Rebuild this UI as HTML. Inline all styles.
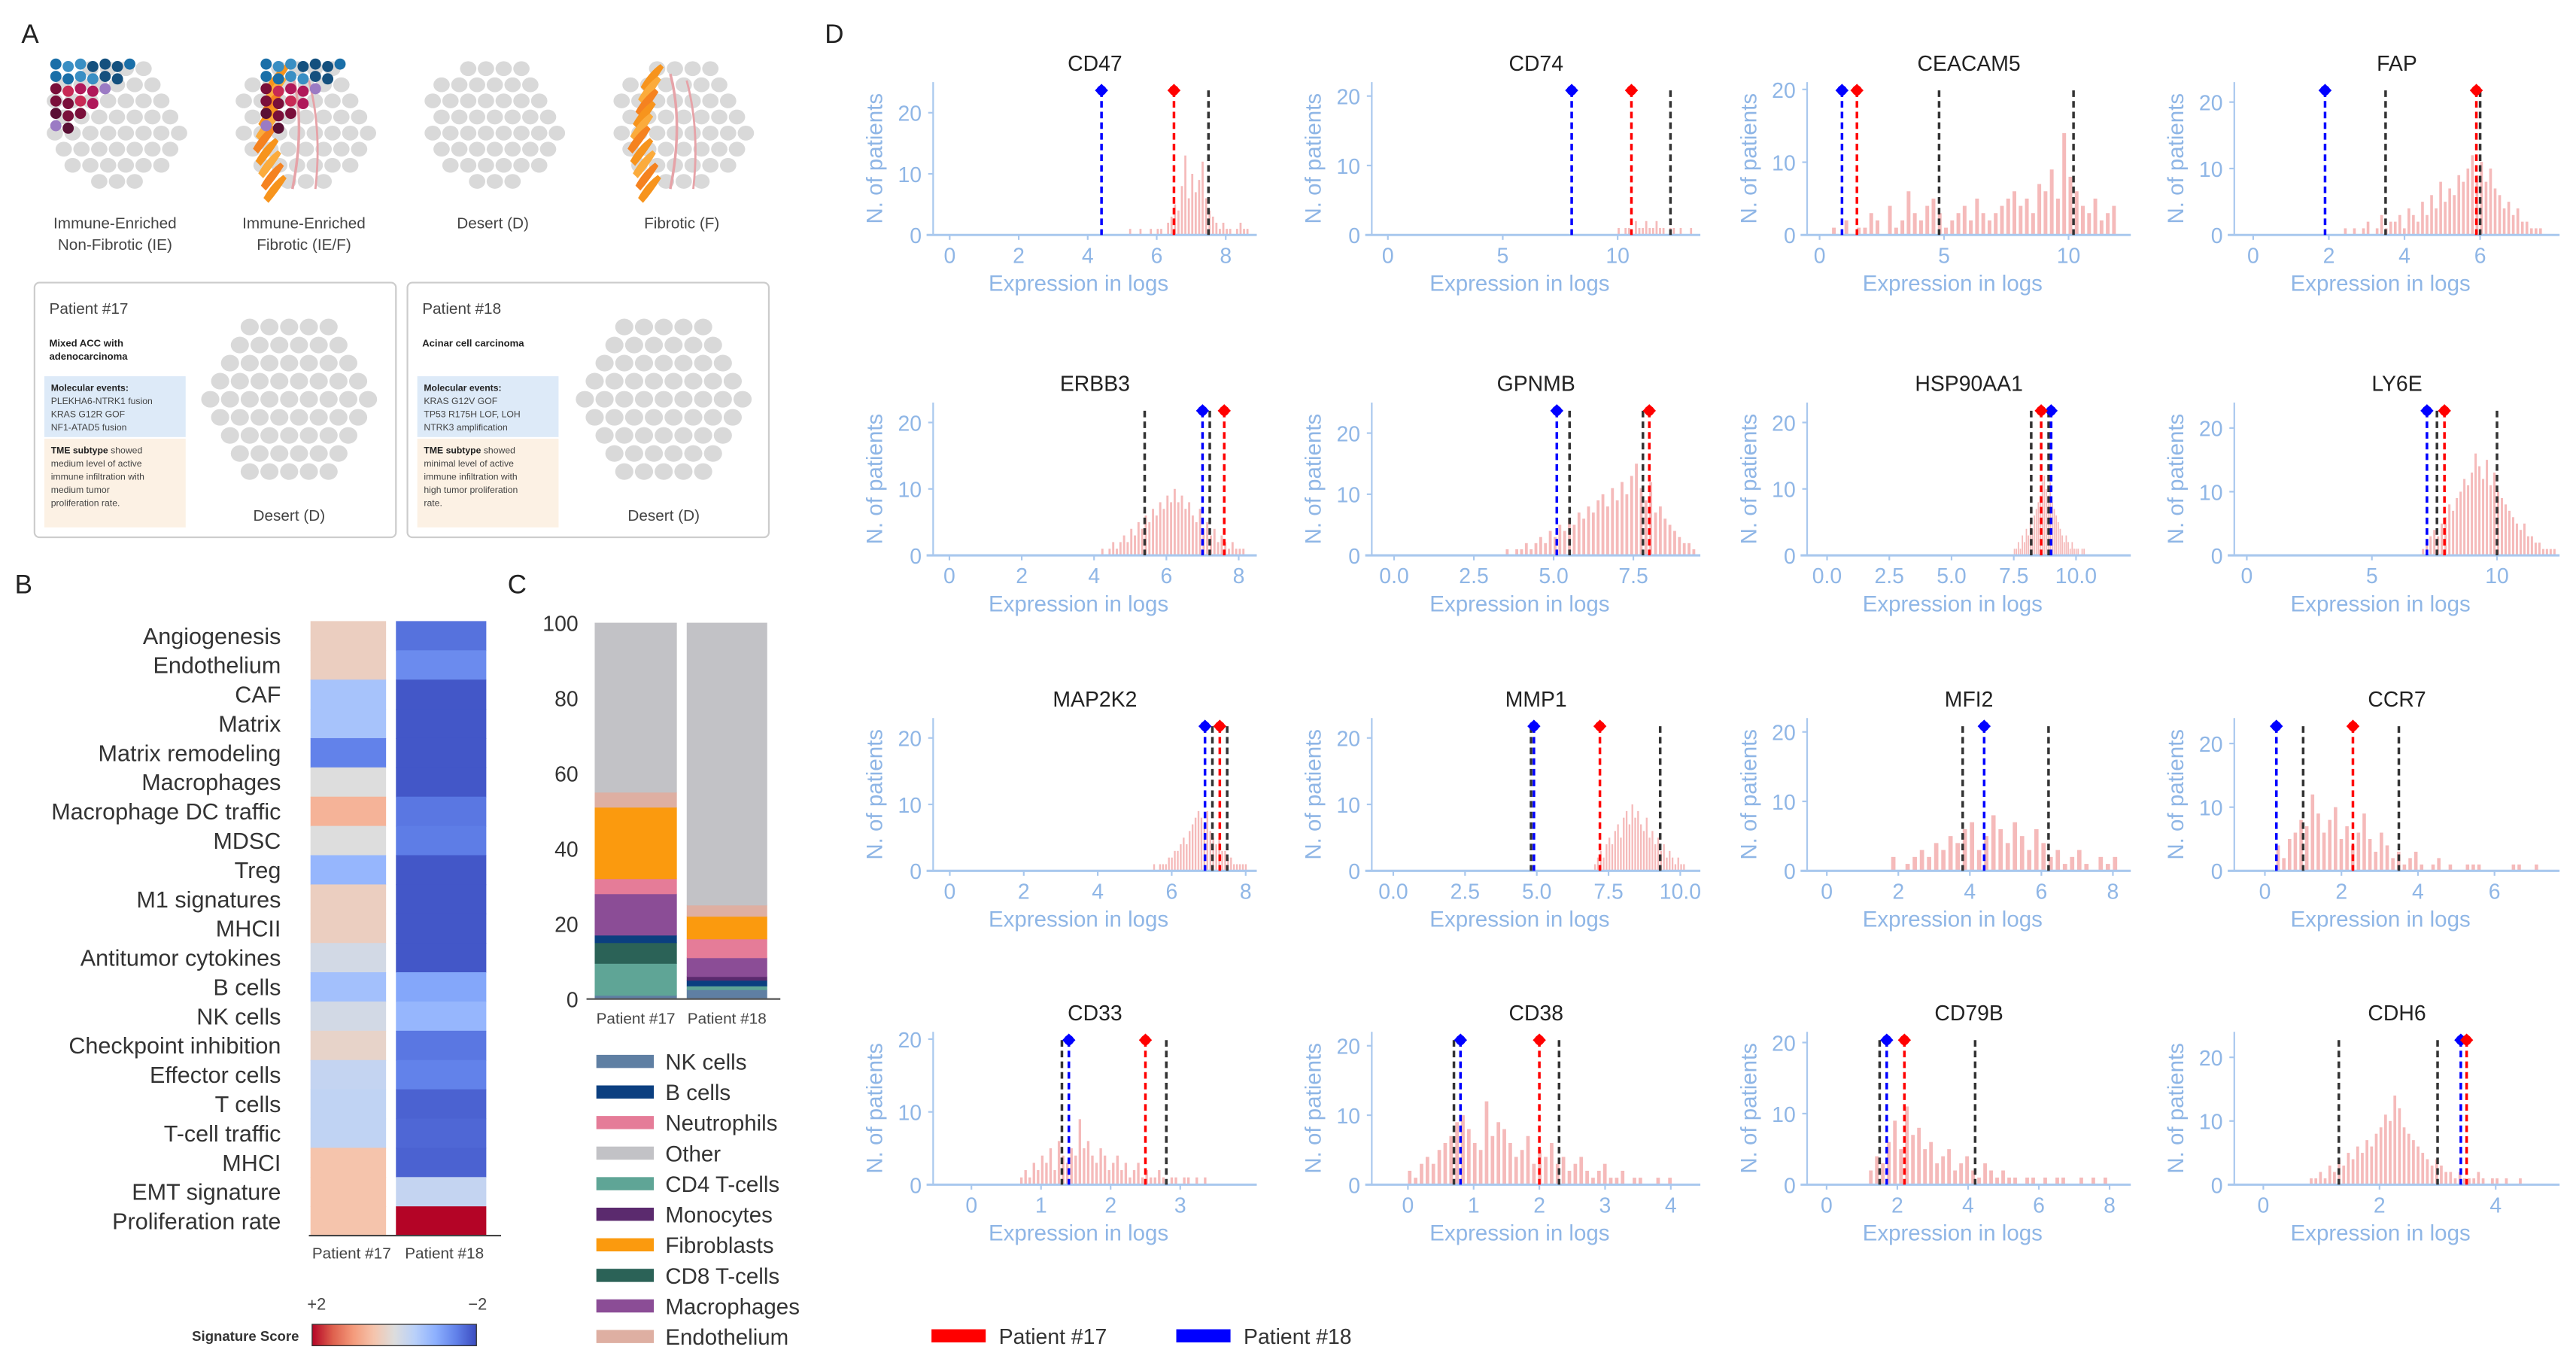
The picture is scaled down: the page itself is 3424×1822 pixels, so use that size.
<!DOCTYPE html>
<html><head><meta charset="utf-8"><style>
html,body{margin:0;padding:0;background:#fff;}
svg{display:block;font-family:"Liberation Sans",sans-serif;}
</style></head><body>
<svg id="fig" width="3424" height="1822" viewBox="0 0 1568 834.4" preserveAspectRatio="none" xmlns="http://www.w3.org/2000/svg">
<rect width="1568" height="834.4" fill="#fff"/>
<g id="panelA">
<text x="13" y="26" font-size="16" fill="#222">A</text>
<text x="70" y="139" font-size="9.5" fill="#444" text-anchor="middle">Immune-Enriched</text>
<text x="70" y="152" font-size="9.5" fill="#444" text-anchor="middle">Non-Fibrotic (IE)</text>
<text x="185" y="139" font-size="9.5" fill="#444" text-anchor="middle">Immune-Enriched</text>
<text x="185" y="152" font-size="9.5" fill="#444" text-anchor="middle">Fibrotic (IE/F)</text>
<text x="300" y="139" font-size="9.5" fill="#444" text-anchor="middle">Desert (D)</text>
<text x="415" y="139" font-size="9.5" fill="#444" text-anchor="middle">Fibrotic (F)</text>
<rect x="21" y="172" width="220" height="155" rx="3" fill="#fff" stroke="#ccc"/>
<rect x="248" y="172" width="220" height="155" rx="3" fill="#fff" stroke="#ccc"/>
<text x="30" y="191" font-size="9.5" fill="#444">Patient #17</text>
<text x="257" y="191" font-size="9.5" fill="#444">Patient #18</text>
<text x="30" y="211" font-size="6" font-weight="bold" fill="#222">Mixed ACC with</text>
<text x="30" y="219" font-size="6" font-weight="bold" fill="#222">adenocarcinoma</text>
<text x="257" y="211" font-size="6" font-weight="bold" fill="#222">Acinar cell carcinoma</text>
<rect x="27" y="229" width="86" height="37" fill="#ddeaf8"/>
<rect x="27" y="267" width="86" height="54" fill="#fcf1e4"/>
<rect x="254" y="229" width="86" height="37" fill="#ddeaf8"/>
<rect x="254" y="267" width="86" height="54" fill="#fcf1e4"/>
<g font-size="5.6" fill="#444">
<text x="31" y="238" font-weight="bold" fill="#222">Molecular events:</text>
<text x="31" y="246">PLEKHA6-NTRK1 fusion</text>
<text x="31" y="254">KRAS G12R GOF</text>
<text x="31" y="262">NF1-ATAD5 fusion</text>
<text x="31" y="276"><tspan font-weight="bold" fill="#222">TME subtype</tspan> showed</text>
<text x="31" y="284">medium level of active</text>
<text x="31" y="292">immune infiltration with</text>
<text x="31" y="300">medium tumor</text>
<text x="31" y="308">proliferation rate.</text>
<text x="258" y="238" font-weight="bold" fill="#222">Molecular events:</text>
<text x="258" y="246">KRAS G12V GOF</text>
<text x="258" y="254">TP53 R175H LOF, LOH</text>
<text x="258" y="262">NTRK3 amplification</text>
<text x="258" y="276"><tspan font-weight="bold" fill="#222">TME subtype</tspan> showed</text>
<text x="258" y="284">minimal level of active</text>
<text x="258" y="292">immune infiltration with</text>
<text x="258" y="300">high tumor proliferation</text>
<text x="258" y="308">rate.</text>
</g>
<text x="176" y="317" font-size="9.5" fill="#444" text-anchor="middle">Desert (D)</text>
<text x="404" y="317" font-size="9.5" fill="#444" text-anchor="middle">Desert (D)</text>
<g id="tissues"></g>
</g>
<g id="panelB">
<text x="9" y="361" font-size="16" fill="#222">B</text>
</g>
<g id="panelC">
<text x="309" y="361" font-size="16" fill="#222">C</text>
</g>
<g id="panelD">
<text x="502" y="26" font-size="16" fill="#222">D</text>
<rect x="567" y="809" width="33" height="8" fill="#f00"/>
<text x="608" y="818" font-size="13" fill="#333">Patient #17</text>
<rect x="716" y="809" width="33" height="8" fill="#00f"/>
<text x="757" y="818" font-size="13" fill="#333">Patient #18</text>
</g>
</svg>
<script>
const NS="http://www.w3.org/2000/svg";
function mk(tag,attrs,parent){const e=document.createElementNS(NS,tag);for(const k in attrs)e.setAttribute(k,attrs[k]);parent.appendChild(e);return e;}

/* ---------- Panel B data ---------- */
const signatureNames=["Angiogenesis","Endothelium","CAF","Matrix","Matrix remodeling","Macrophages","Macrophage DC traffic","MDSC","Treg","M1 signatures","MHCII","Antitumor cytokines","B cells","NK cells","Checkpoint inhibition","Effector cells","T cells","T-cell traffic","MHCI","EMT signature","Proliferation rate"];
const heatPatients=["Patient #17","Patient #18"];
const scoresP17=[0.3,0.3,-0.7,-0.7,-1.5,0,0.7,0,-0.9,0.3,0.3,-0.15,-0.75,-0.15,0.2,-0.35,-0.4,-0.4,0.5,0.5,0.5];
const scoresP18=[-1.65,-1.4,-1.9,-1.9,-1.9,-1.9,-1.6,-1.55,-1.9,-1.9,-1.9,-1.9,-1.1,-0.9,-1.6,-1.5,-1.8,-1.75,-1.8,-0.35,2];

/* ---------- Panel C data ---------- */
const cellTypes=["NK cells","B cells","Neutrophils","Other","CD4 T-cells","Monocytes","Fibroblasts","CD8 T-cells","Macrophages","Endothelium"];
const cellColors=["#5f7fa3","#0b3f80","#e57c98","#c2c2c6","#5fa596","#5b2a6e","#fb9a0e","#2b6257","#8b4d96","#deafa2"];
const stackOrder=["NK cells","CD4 T-cells","CD8 T-cells","B cells","Monocytes","Macrophages","Neutrophils","Fibroblasts","Endothelium","Other"];
const fracP17=[1,8.5,5.5,2,0,11,4,19,4,45];
const fracP18=[2.5,1,0,1.5,1,5,5,6,3,75];
const cTicks=[0,20,40,60,80,100];

/* ---------- Panel D data ---------- */
const geneNames=["CD47","CD74","CEACAM5","FAP","ERBB3","GPNMB","HSP90AA1","LY6E","MAP2K2","MMP1","MFI2","CCR7","CD33","CD38","CD79B","CDH6"];
const xDomains=[[-0.48,8.9],[-0.7,13.6],[-0.5,12.5],[-0.5,8.1],[-0.45,8.5],[-0.7,9.6],[-0.8,12.2],[-0.5,12.5],[-0.45,8.3],[-0.75,10.7],[-0.55,8.5],[-0.8,7.7],[-0.55,4.1],[-0.55,4.45],[-0.55,8.6],[-0.5,5.1]];
const yMaxes=[25,22,21,23,23,25,23,24,23,23,22,24,21,22,21.5,24];
const xTickVals=[[0,2,4,6,8],[0,5,10],[0,5,10],[0,2,4,6],[0,2,4,6,8],[0,2.5,5,7.5],[0,2.5,5,7.5,10],[0,5,10],[0,2,4,6,8],[0,2.5,5,7.5,10],[0,2,4,6,8],[0,2,4,6],[0,1,2,3],[0,1,2,3,4],[0,2,4,6,8],[0,2,4]];
const xTickDecimals=[0,0,0,0,0,1,1,0,0,1,0,0,0,0,0,0];
const yTickVals=[0,10,20];
const binStarts=[5.2,10,0.5,2.4,4.2,3.5,7.5,7.0,5.5,7.0,1.8,0.3,0.7,0.0,1.2,0.8];
const binWidths=[0.1,0.15,0.25,0.12,0.1,0.15,0.08,0.15,0.08,0.1,0.2,0.15,0.06,0.09,0.17,0.08];
const countsCD47=[1,0,0,1,0,0,1,0,1,1,0,2,3,5,4,8,13,6,10,7,9,12,6,4,3,2,1,2,1,1,0,1,2,1,1];
const countsCD74=[1,0,1,1,0,2,1,1,2,1,1,2,1,1,0,1,1,0,1,0,0,1];
const countsCEACAM5=[1,0,2,0,1,1,3,2,0,4,1,2,6,3,2,4,5,3,1,2,3,4,2,5,3,2,3,4,5,6,4,5,3,7,6,9,5,14,8,6,4,3,5,2,3,4];
const countsFAP=[1,0,1,0,1,2,0,1,3,1,2,2,3,1,4,3,2,5,3,6,4,8,5,7,6,9,8,10,12,9,11,8,10,7,6,4,5,3,4,2,2,1,1,1];
const countsERBB3=[1,0,1,2,1,2,3,2,4,3,5,4,6,5,7,6,8,7,9,8,10,8,9,7,8,6,5,7,4,5,3,4,2,3,2,1,2,1,1,1];
const countsGPNMB=[1,0,1,1,2,1,2,3,2,4,3,5,4,6,5,7,6,8,7,9,10,8,11,9,12,10,13,15,11,9,12,7,8,6,5,4,3,2,2,1];
const countsHSP90AA1=[1,1,2,1,3,2,4,3,5,4,6,7,8,9,11,12,10,9,11,8,7,6,5,4,3,2,3,2,1,2,1,1,1,0,1,1];
const countsLY6E=[1,2,3,4,3,5,6,8,7,9,10,12,11,13,16,14,12,15,11,13,10,9,8,7,6,5,4,5,3,3,2,2,1,1,1,1];
const countsMAP2K2=[1,0,1,1,1,2,2,3,3,4,5,4,6,7,8,9,8,7,9,6,5,4,5,3,3,2,2,1,1,1,1,1];
const countsMMP1=[1,2,3,2,4,5,4,6,7,5,8,9,7,10,8,9,7,6,8,5,6,4,5,3,4,2,3,2,1,2,1,1];
const countsMFI2=[2,0,1,2,3,2,4,3,5,4,6,7,3,5,8,6,4,7,5,3,6,4,2,3,1,2,3,1,0,2,1,2];
const countsCCR7=[4,2,5,6,8,7,12,9,6,8,10,5,7,4,6,9,5,3,6,4,2,3,1,2,3,1,0,1,2,0,1,0,0,1,1,1,0,0,0,0,0,1,1,0,0,1];
const countsCD33=[1,2,1,3,2,4,3,5,2,6,4,3,5,4,9,5,6,4,3,5,4,2,3,4,2,3,1,2,3,1,2,1,1,2,1,0,1,1,0,1,1,0,1,0,1];
const countsCD38=[2,1,3,4,3,5,6,7,9,10,8,6,5,12,7,9,8,6,4,5,7,3,5,4,6,3,4,2,3,4,2,1,2,3,1,1,2,0,1,1,0,0,1,0,1];
const countsCD79B=[2,4,3,6,9,5,11,7,8,5,6,3,4,5,2,3,4,2,1,3,2,1,2,1,1,0,1,1,0,1,0,1,1,0,0,1,0,1,0,1];
const countsCDH6=[1,1,2,1,3,2,4,3,5,4,6,5,7,6,8,9,11,10,14,12,9,8,7,6,5,4,3,4,3,2,2,1,2,1,1,1,2,1,0,1,1,0,1,0,0,1];
const allCounts=[countsCD47,countsCD74,countsCEACAM5,countsFAP,countsERBB3,countsGPNMB,countsHSP90AA1,countsLY6E,countsMAP2K2,countsMMP1,countsMFI2,countsCCR7,countsCD33,countsCD38,countsCD79B,countsCDH6];
const p17Values=[6.5,10.6,1.5,5.9,7.6,8.0,8.6,7.9,7.3,7.2,null,2.3,2.5,2.0,2.2,3.5];
const p18Values=[4.4,8.0,0.9,1.9,7.0,5.1,9.0,7.2,6.9,4.9,4.4,0.3,1.4,0.8,1.7,3.4];
const refValuesA=[7.5,12.3,4.8,3.5,5.4,5.5,8.2,7.6,7.1,4.8,3.8,1.0,1.3,0.7,1.5,1.3];
const refValuesB=[null,null,10.2,6.0,7.2,7.8,8.9,10.0,7.5,9.3,6.2,3.5,2.8,2.3,4.2,3.0];

/* ---------- Panel A tissue illustrations (decorative) ---------- */
(function(){
  const g=document.getElementById('tissues');
  const centers=[[71,75,43,'ie'],[186,75,43,'ief'],[301,75,43,'d'],[416,75,43,'f'],[176,242,54,'d'],[404,242,54,'d']];
  centers.forEach(([cx,cy,r,t])=>{
    const tg=mk('g',{},g);
    
    
    const sx=r>50?12:10.8,sy=r>50?11:9.8;
    for(let yy=-r;yy<=r;yy+=sy){for(let xx=-r-sx;xx<=r+sx;xx+=sx){
      const ox=xx+((Math.round((yy+r)/sy)%2)?sx/2:0);
      const d=Math.sqrt(ox*ox+yy*yy);
      if(d<=r-3){
        mk('ellipse',{cx:cx+ox,cy:cy+yy,rx:sx*0.46,ry:sy*0.46,fill:'#d9d9d9'},tg);}
    }}
    if(t==='ief'||t==='f'){
      const oc=['#f7941d','#fbab3c','#f58220'];
      const bx=t==='f'?cx-34:cx-32;
      for(let i=0;i<10;i++){const y0=cy-28+i*7.5,x0=bx+Math.abs(i-5)*1.6;
        mk('path',{d:`M${x0} ${y0+6} q5 -9 12 -14 l2 2 q-5 8 -11 15z`,fill:oc[i%3]},tg);}
      mk('path',{d:`M${cx-8} ${cy-30} q8 30 0 70`,stroke:'#e6a3a8',fill:'none','stroke-width':1.6},tg);
      mk('path',{d:`M${cx+2} ${cy-26} q8 30 4 66`,stroke:'#e6a3a8',fill:'none','stroke-width':1.3},tg);
    }
    if(t==='ie'||t==='ief'){
      const dc=['#1a6fa8','#14507e','#3a8fc4','#b0185a','#7a0f3a','#9b7bc4','#c82a55','#5a1035'];
      const ox=t==='ie'?-37:-24,oy=cy-36;
      for(let row=0;row<6;row++){for(let col=0;col<(7-row);col++){
        const k=(row*3+col*5)%8;
        mk('circle',{cx:cx+ox+col*7.5,cy:oy+row*7.5+(col%2)*1.5,r:3.4,fill:dc[row<2?(k%3):(3+k%5)]},tg);}}
    }
  });
})();

/* ---------- Panel B heatmap ---------- */
const cwStops=[[-2,[59,76,192]],[-1.5,[98,130,234]],[-1,[141,176,254]],[-0.5,[185,208,249]],[0,[221,221,221]],[0.5,[245,196,172]],[1,[244,154,123]],[1.5,[222,96,77]],[2,[180,4,38]]];
function coolwarm(v){v=Math.max(-2,Math.min(2,v));for(let i=0;i<cwStops.length-1;i++){const a=cwStops[i],b=cwStops[i+1];if(v<=b[0]){const t=(v-a[0])/(b[0]-a[0]);const c=a[1].map((x,j)=>Math.round(x+(b[1][j]-x)*t));return `rgb(${c})`;}}return 'rgb(180,4,38)';}
(function(){
  const g=document.getElementById('panelB');
  const top=378,bottom=752,rowH=(bottom-top)/signatureNames.length;
  const colX=[189,241],colW=[46,55];
  const series=[scoresP17,scoresP18];
  signatureNames.forEach((n,i)=>{
    const t=mk('text',{x:171,y:top+rowH*(i+0.5)+5,'font-size':14,fill:'#333','text-anchor':'end'},g);t.textContent=n;
    
    
    series.forEach((s,j)=>{
      const r=mk('rect',{x:colX[j],y:top+rowH*i,width:colW[j],height:rowH+0.4,fill:coolwarm(s[i])},g);
      
      
    });
  });
  const ax=mk('line',{x1:188,x2:305,y1:bottom,y2:bottom,stroke:'#444','stroke-width':1},g);
  
  
  heatPatients.forEach((p,j)=>{const t=mk('text',{x:colX[j]+colW[j]/2+2,y:766,'font-size':9.5,fill:'#444','text-anchor':'middle'},g);t.textContent=p;
    
    });
  const defs=mk('defs',{},g);const lg=mk('linearGradient',{id:'cbg',x1:0,x2:1,y1:0,y2:0},defs);
  for(let k=0;k<=8;k++){mk('stop',{offset:k/8,'stop-color':coolwarm(2-k*0.5)},lg);}
  const cb=mk('rect',{x:190,y:806,width:100,height:13,fill:'url(#cbg)',stroke:'#333','stroke-width':0.6},g);
  
  
  [['+2',187],['\u22122',285]].forEach(([s,x])=>{const t=mk('text',{x:x,y:797,'font-size':10,fill:'#444'},g);t.textContent=s;
    
    });
  const st=mk('text',{x:182,y:816,'font-size':8.5,'font-weight':'bold',fill:'#333','text-anchor':'end'},g);st.textContent='Signature Score';
  
  
})();

/* ---------- Panel C stacked bars ---------- */
(function(){
  const g=document.getElementById('panelC');
  const y0=608,y100=379;const ys=v=>y0-(y0-y100)*v/100;
  cTicks.forEach(v=>{const t=mk('text',{x:352,y:ys(v)+5,'font-size':13,fill:'#333','text-anchor':'end'},g);t.textContent=v;
    
    });
  const bars=[[fracP17,362,50,'Patient #17'],[fracP18,418,49,'Patient #18']];
  bars.forEach(([fr,x,w,lab])=>{
    let acc=0;
    stackOrder.forEach((ct,i)=>{const v=fr[i];if(v<=0)return;
      const r=mk('rect',{x:x,y:ys(acc+v),width:w,height:ys(acc)-ys(acc+v)+0.3,fill:cellColors[cellTypes.indexOf(ct)]},g);
      
      
      acc+=v;});
    const t=mk('text',{x:x+w/2,y:623,'font-size':9.5,fill:'#444','text-anchor':'middle'},g);t.textContent=lab;
    
    
  });
  const ax=mk('line',{x1:357,x2:475,y1:y0,y2:y0,stroke:'#555','stroke-width':1},g);
  
  
  cellTypes.forEach((ct,i)=>{const yy=646+i*18.6;
    const s=mk('rect',{x:363,y:yy-4,width:35,height:8,fill:cellColors[i]},g);
    
    
    const t=mk('text',{x:405,y:yy+5,'font-size':13.5,fill:'#333'},g);t.textContent=ct;
    
    });
})();

/* ---------- Panel D histograms ---------- */
(function(){
  const g=document.getElementById('panelD');
  const colL=[568,835,1100,1360],colR=[765,1035,1297,1558];
  const rowB=[143,338,530,721];const ph=93;
  const axC='#a9c8ee',txC='#8fb6e6';
  geneNames.forEach((gn,p)=>{
    const ci=p%4,ri=Math.floor(p/4);
    const L=colL[ci],R=colR[ci],B=rowB[ri],T=B-ph;
    const [xa,xb]=xDomains[p];const ym=yMaxes[p];
    const xs=v=>L+(v-xa)/(xb-xa)*(R-L);const ys=v=>B-v/ym*(B-T);
    const pg=mk('g',{},g);
    
    
    const tt=mk('text',{x:(L+R)/2,y:T-7,'font-size':13,fill:'#222','text-anchor':'middle'},pg);tt.textContent=gn;
    
    
    const cnt=allCounts[p];
    cnt.forEach((c,k)=>{if(c<=0)return;const x0=binStarts[p]+k*binWidths[p];
      const r=mk('rect',{x:xs(x0),y:ys(c),width:Math.max(0.8,(xs(x0+binWidths[p])-xs(x0))*0.6),height:B-ys(c),fill:'#f2a9a9','fill-opacity':0.8},pg);
      
      });
    const yl=mk('line',{x1:L,x2:L,y1:T,y2:B,stroke:axC,'stroke-width':1},pg);
    
    
    const xl=mk('line',{x1:L-4,x2:R,y1:B,y2:B,stroke:axC,'stroke-width':1.4},pg);
    
    
    yTickVals.forEach(v=>{if(v>ym)return;
      mk('line',{x1:L-3,x2:L,y1:ys(v),y2:ys(v),stroke:axC},pg);
      const t=mk('text',{x:L-7,y:ys(v)+5,'font-size':13,fill:txC,'text-anchor':'end'},pg);t.textContent=v;
      
      });
    xTickVals[p].forEach(v=>{
      mk('line',{x1:xs(v),x2:xs(v),y1:B,y2:B+3,stroke:axC},pg);
      const t=mk('text',{x:xs(v),y:B+17,'font-size':13,fill:txC,'text-anchor':'middle'},pg);t.textContent=v.toFixed(xTickDecimals[p]);
      
      });
    const xt=mk('text',{x:(L+R)/2-10,y:B+34,'font-size':13.5,fill:txC,'text-anchor':'middle'},pg);xt.textContent='Expression in logs';
    
    
    const yx=L-31,yc=(T+B)/2;
    const yt=mk('text',{x:yx,y:yc,'font-size':13.5,fill:txC,'text-anchor':'middle',transform:`rotate(-90 ${yx} ${yc})`},pg);yt.textContent='N. of patients';
    
    
    [[refValuesA[p],'#333'],[refValuesB[p],'#333'],[p18Values[p],'#0000ff'],[p17Values[p],'#ff0000']].forEach(([v,c],k)=>{
      if(v===null||v===undefined)return;
      const ln=mk('line',{x1:xs(v),x2:xs(v),y1:T+5,y2:B,stroke:c,'stroke-width':1.6,'stroke-dasharray':'4 2.5'},pg);
      
      
      if(k>=2){const m=mk('path',{d:`M${xs(v)} ${T+1} l4 4 l-4 4 l-4 -4z`,fill:c},pg);
        
        
        mk('circle',{cx:xs(v),cy:T+5,r:3,fill:c},pg);}
    });
  });
})();
</script>
</body></html>
